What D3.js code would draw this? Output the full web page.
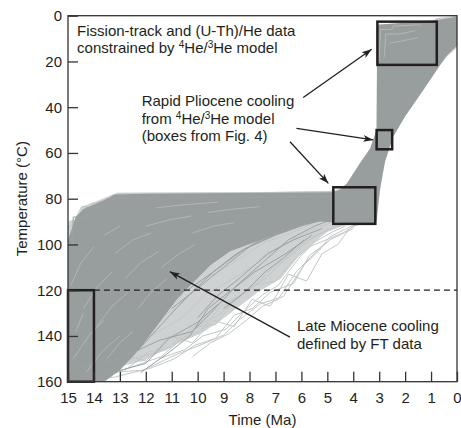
<!DOCTYPE html>
<meta charset="utf-8">
<script src="https://d3js.org/d3.v7.js"></script>
<style type="text/css">
  body { margin: 0; background: #fff; }
  text { font-family: "Liberation Sans", Arial, sans-serif; fill: #231f20; }
</style>
<div id="chart"></div>

<script>
// axis extents and tick values
var timeTicks = [15,14,13,12,11,10,9,8,7,6,5,4,3,2,1,0];
var tempTicks = [0,20,40,60,80,100,120,140,160];

// envelope of all accepted paths [Ma, degC] (inner solid part)
var acceptEnvelope = [[15,90],[14.75,89],[14.5,83.5],[14.1,82],[13.3,78.3],[13.1,77.5],[8,77.2],[4.78,76.5],
  [4.5,75.5],[4.25,73.3],[3.74,64.4],[3.35,58],[3.1,50],[3.08,21],[3.08,4],[1.0,3],[0.8,1],[0,0],
  [0,14],[0.4,18],[0.65,21.5],[1.3,32.5],[2.0,44],[2.47,53],[2.78,64],[2.97,76],[3.1,90.5],
  [3.7,90.5],[4.3,91.5],[5.0,94.5],[5.5,99],[6.1,105],[6.8,115],[7.7,121],[8.5,128],
  [9.2,134],[9.9,139],[10.9,144],[12.1,151],[13.6,155],[14.4,158],[15,160]];

// envelope of the good-fit paths
var goodEnvelope = [[15,98],[14.7,88],[14.4,84.5],[14.0,82.5],[13.5,80],[13.2,78.2],[12,77.8],[4.78,77.2],
  [4.5,76],[4.25,73.5],[3.74,64.5],[3.35,58],[3.1,50],[3.08,4],[0.8,2],[0,0.5],
  [0,13],[0.4,17.5],[0.65,21.5],[1.3,32.5],[2.0,44],[2.47,53],[2.78,64],[2.97,76],[3.1,89],[3.15,90.5],
  [4.5,90.5],[5.3,90],[6.0,92],[7.0,96],[7.8,99],[8.75,103],[9.5,109],[10.2,117],[10.8,124],
  [11.4,133],[12.2,145],[13.0,155],[13.6,160],[15,160]];

// accepted (light) paths, partly outside the good-fit cloud
var acceptPaths = [
  [[15,92],[14.75,92],[14.75,90],[14.5,90],[14.45,83.5],[14.1,83.5],[14.1,82],[13.3,82],[13.3,78.5],[13.1,78.5],[13.1,77.6],[8,77.4],[4.8,77]],
  [[14.9,100],[14.9,95],[14.6,95],[14.6,87],[13.9,87],[13.9,84.5],[13.2,84.5],[13.2,80.5],[12.6,80.5],[12.6,78.5],[4.8,78]],
  [[15,150],[13.5,156],[12.1,155],[10.8,148],[9.6,142.6],[9.0,139.6],[8.4,133],[7.6,126],[6.7,122.8],[5.9,109],[5.3,102.4],[4.9,96.6],[4.1,92.2],[3.6,90.8],[3.15,90]],
  [[15,158],[14,157.5],[12.5,150],[11.2,146],[10.3,137],[9.2,131],[8.3,122],[7.3,114],[6.6,106],[6.0,100],[5.2,95],[4.6,92]],
  [[15,140],[13.9,152],[12.8,145],[11.8,140],[10.6,132],[9.7,122],[8.8,116],[7.8,109],[7.0,102],[6.2,97],[5.4,92.5],[4.7,90]],
  [[14.2,160],[12.9,148],[12,151],[11.1,140],[10.2,143],[9.4,133],[8.6,136],[7.9,124],[7.2,127],[6.5,113],[5.8,116],[5.2,104],[4.6,100],[4.2,94]],
  [[15,130],[13.6,142],[12.6,136],[11.5,133],[10.5,125],[9.9,116],[8.9,110],[8.1,104],[7.4,99],[6.4,95],[5.6,91]],
  [[13.4,157],[12.4,153],[11.4,149],[10.6,141],[9.9,138],[9.1,127],[8.0,120],[7.1,110],[6.3,104],[5.6,97],[4.9,93]],
  [[12.8,155],[11.9,147],[11.0,145],[10.0,136],[9.3,135],[8.7,126],[7.9,118],[7.0,116],[6.4,108],[5.7,101],[4.4,95],[3.9,91.5]],
  [[11.5,150],[10.5,146],[9.8,140],[8.9,137],[8.3,130],[7.5,122],[6.9,118],[6.1,106],[5.5,99],[4.8,94.5],[4.3,92]],
  [[14.6,159],[13.2,158],[11.8,154],[10.9,150],[10.1,144],[9.3,141],[8.6,131],[7.9,128],[7.2,121],[6.3,117],[5.7,105],[5.0,99]],
  [[10.2,149],[9.5,143],[8.8,139],[8.1,133],[7.5,127],[6.9,124],[6.2,112],[5.5,104],[4.9,98],[4.0,93]]
];

// short light streaks seen inside the good-fit cloud
var streakPaths = [
  [[14.8,150],[14.2,140],[13.6,133]],
  [[14.3,156],[13.7,147],[13.0,140]],
  [[14.9,118],[14.5,108],[14.0,101]],
  [[13.9,136],[13.3,127],[12.7,121]],
  [[13.5,150],[13.0,143],[12.5,138]],
  [[14.4,128],[13.9,119],[13.3,112]],
  [[12.8,115],[12.2,108],[11.5,103]],
  [[12.3,128],[11.8,121],[11.2,115]],
  [[14.7,138],[14.4,130]],
  [[13.2,104],[12.5,98],[11.8,95]],
  [[11.4,110],[10.7,104],[10.1,100]],
  [[12.0,92],[11.0,89],[10.2,87.5]],
  [[9.6,86],[8.6,84.5],[7.6,83.5]],
  [[11.6,84],[10.4,82.5],[9.2,81.5]],
  [[13.6,96],[13.0,92]],
  [[10.2,95],[9.4,92],[8.6,90.5]],
  [[3.0,20],[2.95,6],[2.5,6],[2.45,4.5],[1.4,4]],
  [[2.8,18],[2.75,8],[2.2,8],[1.6,6.5]],
  [[2.6,12],[2.1,11],[1.5,9.5]]
];

// good-fit (dark) paths that run into the light area
var goodPaths = [
  [[15,155],[13,150],[11.5,142],[10.2,138],[9.5,130],[8.5,118],[7.5,108],[6.5,98],[5.5,92],[4.8,89]],
  [[13.8,158],[12.6,150],[11.4,135],[10.5,124],[9.4,112],[8.2,102],[7.0,96],[5.8,91]],
  [[11.0,128],[10.1,120],[9.0,110],[8.0,101],[6.9,95],[5.8,90.5]],
  [[10.4,120],[9.4,112],[8.5,104],[7.4,97],[6.3,92]],
  [[14.0,160],[13.3,156],[12.0,152],[11.1,141],[10.0,134],[9.2,126]],
  [[12.2,156],[11.2,148],[10.3,140],[9.6,128],[8.7,120],[7.8,112],[6.6,104],[5.6,96]],
  [[10.0,132],[9.2,122],[8.3,114],[7.3,104],[6.3,98],[5.2,93]],
  [[9.0,128],[8.2,121],[7.4,112],[6.7,106],[5.9,98]],
  [[14.8,100],[14.8,88],[14.3,88],[14.3,84],[13.5,84],[13.5,80],[12,80],[4.8,79]]
];

// interpreted constraint boxes [t0, t1, T0, T1]
var boxes = [[15,14,120,160],[4.77,3.15,75,91],[3.1,2.5,50,58.4],[3.07,0.78,2.6,21.5]];
var dashT = 120;

var margin = {top: 15.7, left: 68},
    width = 389, height = 366;

var svg = d3.select("#chart").append("svg")
  .attr("width", 461).attr("height", 428);

var x = d3.scaleLinear().domain([15,0]).range([margin.left, margin.left + width]);
var y = d3.scaleLinear().domain([0,160]).range([margin.top, margin.top + height]);

svg.append("defs").append("marker")
  .attr("id", "head")
  .attr("viewBox", "0 0 10 10")
  .attr("refX", 10).attr("refY", 5)
  .attr("markerWidth", 10).attr("markerHeight", 10)
  .attr("markerUnits", "userSpaceOnUse")
  .attr("orient", "auto")
  .append("path").attr("d", "M0,1.5 L10,5 L0,8.5 L2.5,5 Z").attr("fill", "#231f20");

svg.append("clipPath").attr("id", "plotclip")
  .append("rect").attr("x", margin.left).attr("y", margin.top)
  .attr("width", width).attr("height", height);

var line = d3.line().x(function(d){ return x(d[0]); }).y(function(d){ return y(d[1]); });
var g = svg.append("g").attr("clip-path", "url(#plotclip)");

var light = "#cfd2d2", dark = "#989d9d";

g.append("path").attr("d", line(acceptEnvelope) + "Z").attr("fill", light);

g.selectAll(".acc").data(acceptPaths).enter().append("path")
  .attr("d", line).attr("fill", "none")
  .attr("stroke", "#c3c7c7").attr("stroke-width", 1);

g.append("path").attr("d", line(goodEnvelope) + "Z").attr("fill", dark);

g.selectAll(".streak").data(streakPaths).enter().append("path")
  .attr("d", line).attr("fill", "none")
  .attr("stroke", "#c6c9c9").attr("stroke-width", 0.8).attr("opacity", 0.7);

g.selectAll(".good").data(goodPaths).enter().append("path")
  .attr("d", line).attr("fill", "none")
  .attr("stroke", "#9ca1a1").attr("stroke-width", 1);

// dashed 120 degC line
svg.append("line")
  .attr("x1", x(14)).attr("x2", x(0)).attr("y1", y(dashT)).attr("y2", y(dashT))
  .attr("stroke", "#231f20").attr("stroke-width", 1.2).attr("stroke-dasharray", "6,4");

// boxes
svg.selectAll(".box").data(boxes).enter().append("rect")
  .attr("x", function(d){ return x(d[0]); })
  .attr("y", function(d){ return y(d[2]); })
  .attr("width", function(d){ return x(d[1]) - x(d[0]); })
  .attr("height", function(d){ return y(d[3]) - y(d[2]); })
  .attr("fill", "none").attr("stroke", "#231f20").attr("stroke-width", 2.5);

// frame
svg.append("rect").attr("x", margin.left).attr("y", margin.top)
  .attr("width", width).attr("height", height)
  .attr("fill", "none").attr("stroke", "#333").attr("stroke-width", 1.3);

// axes with inward ticks
var yAxis = d3.axisLeft(y).tickValues(tempTicks).tickSizeInner(-10).tickSizeOuter(0).tickPadding(6);
var xAxis = d3.axisBottom(x).tickValues(timeTicks).tickSizeInner(-10).tickSizeOuter(0).tickPadding(11)
  .tickFormat(d3.format("d"));

var ya = svg.append("g").attr("transform", "translate(" + margin.left + ",0)").call(yAxis);
var xa = svg.append("g").attr("transform", "translate(0," + (margin.top + height) + ")").call(xAxis);
[ya, xa].forEach(function(a){
  a.select(".domain").remove();
  a.selectAll("line").attr("stroke", "#333").attr("stroke-width", 1.3);
  a.selectAll("text").style("font-size", "15px").style("font-family", "'Liberation Sans', Arial, sans-serif").attr("fill", "#231f20");
});

// axis titles
svg.append("text").attr("x", x(7.5)).attr("y", 425).attr("text-anchor", "middle")
  .style("font-size", "15px").text("Time (Ma)");
svg.append("text").attr("transform", "translate(27," + y(80) + ") rotate(-90)")
  .attr("text-anchor", "middle").style("font-size", "15px").text("Temperature (°C)");

// annotations
function label(t, T, parts){
  var txt = svg.append("text").attr("x", x(t)).attr("y", y(T)).style("font-size", "15px");
  parts.forEach(function(p){
    if (p[1]) txt.append("tspan").attr("dy", -5).style("font-size", "10px").text(p[0]);
    else {
      var s = txt.append("tspan").text(p[0]);
      if (p[2]) s.attr("dy", 5);
    }
  });
}
label(14.65, 8.9, [["Fission-track and (U-Th)/He data"]]);
label(14.65, 16.4, [["constrained by "],["4",1],["He/",0,1],["3",1],["He model",0,1]]);
label(12.16, 39.5, [["Rapid Pliocene cooling"]]);
label(12.16, 47.2, [["from "],["4",1],["He/",0,1],["3",1],["He model",0,1]]);
label(12.16, 54.8, [["(boxes from Fig. 4)"]]);
label(6.17, 137.8, [["Late Miocene cooling"]]);
label(6.17, 145.5, [["defined by FT data"]]);

var arrows = [[[5.93,35.8],[3.29,14.7]],[[6.19,49.3],[3.23,54.3]],[[6.44,55.1],[4.96,73.3]],[[6.44,140.5],[11.07,111.9]]];
svg.selectAll(".arrow").data(arrows).enter().append("path")
  .attr("d", line).attr("fill", "none")
  .attr("stroke", "#231f20").attr("stroke-width", 1.3)
  .attr("marker-end", "url(#head)");
</script>
